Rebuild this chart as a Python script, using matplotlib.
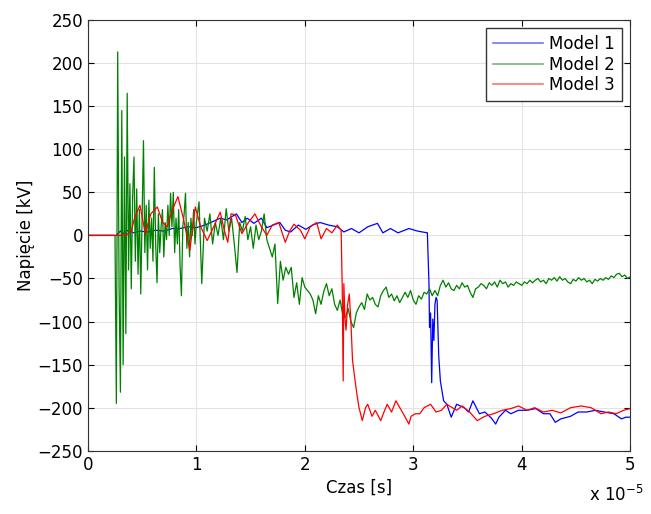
import numpy as np
import matplotlib
matplotlib.use("Agg")
import matplotlib.pyplot as plt

# czas w jednostkach 1e-5 s, napiecie w kV

# Model 1
m1_t = [0, 0.26, 0.30, 0.33, 0.37, 0.42, 0.48, 0.55, 0.62, 0.70,
        0.78, 0.85, 0.92, 1.00, 1.08, 1.15, 1.22, 1.28, 1.33, 1.37,
        1.42, 1.47, 1.53, 1.60, 1.65, 1.71, 1.77, 1.82, 1.87, 1.94,
        2.01, 2.07, 2.14, 2.22, 2.30, 2.36, 2.43, 2.50, 2.58, 2.67,
        2.72, 2.79, 2.86, 2.96, 3.04, 3.13, 3.145, 3.15, 3.16, 3.17,
        3.18, 3.19, 3.20, 3.21, 3.22, 3.235, 3.25, 3.28, 3.31, 3.35,
        3.40, 3.47, 3.51, 3.55, 3.61, 3.66, 3.72, 3.76, 3.79, 3.85,
        3.90, 3.97, 4.05, 4.13, 4.20, 4.26, 4.31, 4.36, 4.45, 4.52,
        4.60, 4.68, 4.76, 4.85, 4.92, 4.96, 5.0]
m1_v = [0, 0, 5, 2, 6, 3, 5, 4, 6, 5,
        8, 8, 10, 9, 12, 16, 20, 18, 22, 25,
        15, 20, 14, 20, 9, 12, 15, 6, 4, 12,
        7, 12, 15, 12, 10, 4, 8, 3, 10, 14,
        3, 8, 3, 8, 5, 3, -56, -107, -90, -171,
        -97, -122, -80, -72, -75, -140, -169, -192, -196, -211,
        -196, -200, -205, -192, -207, -205, -212, -219, -211, -203,
        -207, -203, -203, -201, -207, -207, -217, -213, -210, -205,
        -205, -203, -205, -207, -213, -211, -211]

# Model 2 - kolejne odcinki (t_start, t_end, wartosci)
m2_seg0 = [0, 0]
m2_seg1 = [0, -195, 213, -60, -182, 145, -150, 91, -114, 165,
           -40, 60, -62, 45, 91, -30, 54, -45, 30, -68,
           20, 110, -20, 35, -40, 41, -15, 20, -30, 79,
           -10, -55, 25, -20, 10, 30, -25, 15, -5, 35,
           0, 49, 10, 50, -20, 20, -10, 30, -35, -70,
           10, 25, 49, -15, 15, -25, 20, 0, 30, -10, 15]
m2_seg2 = [39, -56, 20, 5, 25, -10, 15, 0, 20, -5,
           31, 5, 20, -10, -43, 15, 5, 22, -5, 10,
           -15, 12, -5, 5]
m2_seg3 = [25, -5, -15, -25, -10, -79, -30, -52, -37, -45,
           -37, -72, -55, -80, -49, -60, -64, -68, -75, -91,
           -70, -80, -65, -56, -70, -62, -80, -87, -75, -92,
           -95, -85, -100, -107, -90, -83, -78, -86, -68, -75,
           -72, -80, -83, -70, -64, -60, -72, -68, -76, -70,
           -78, -72, -66, -72, -64, -75, -80, -70, -74, -66,
           -68, -62, -70, -64, -70, -58, -52, -60, -55, -62,
           -64, -58, -62, -55, -60, -58, -66, -72, -62, -60,
           -56, -58, -62, -55, -58, -54, -60, -52, -56, -54,
           -60, -56, -58, -54, -56, -58, -54, -56, -52, -55,
           -52, -50, -54, -52, -56, -50, -52, -49, -53, -48,
           -52, -50, -54, -56, -51, -53, -49, -52, -50, -54,
           -52, -56, -51, -53, -50, -52, -49, -51, -47, -49,
           -45, -44, -48, -46, -50, -48]
m2_bounds = [(0.0, 0.25), (0.25, 1.0), (1.025, 1.6), (1.625, 5.0)]

# Model 3
m3_t = [0, 0.35, 0.40, 0.43, 0.48, 0.53, 0.58, 0.64, 0.69, 0.73,
        0.78, 0.83, 0.88, 0.94, 0.99, 1.04, 1.10, 1.16, 1.22, 1.26,
        1.29, 1.32, 1.36, 1.42, 1.48, 1.54, 1.60, 1.65, 1.70, 1.76,
        1.82, 1.86, 1.90, 1.96, 2.00, 2.05, 2.11, 2.15, 2.20, 2.25,
        2.30, 2.335, 2.345, 2.354, 2.36, 2.37, 2.38, 2.395, 2.41, 2.425,
        2.44, 2.46, 2.48, 2.50, 2.53, 2.56, 2.58, 2.62, 2.65, 2.70,
        2.73, 2.76, 2.80, 2.84, 2.89, 2.93, 2.96, 2.98, 3.02, 3.06,
        3.10, 3.16, 3.21, 3.26, 3.31, 3.36, 3.40, 3.45, 3.52, 3.59,
        3.66, 3.74, 3.82, 3.90, 3.97, 4.05, 4.12, 4.20, 4.28, 4.36,
        4.45, 4.55, 4.64, 4.73, 4.80, 4.87, 4.94, 5.0]
m3_v = [0, 0, 5, 20, 35, 2, 25, 33, 15, 10,
        30, 45, 20, -17, 33, 10, -6, 10, 27, 5,
        -8, 25, 24, 2, 15, 25, 10, 0, 12, 15,
        -8, 5, 13, 6, -4, 10, 15, -4, 8, 3,
        12, 6, -60, -169, -56, -95, -110, -80, -68, -100,
        -145, -165, -184, -200, -215, -200, -196, -210, -203, -215,
        -205, -196, -205, -192, -203, -212, -219, -210, -207, -207,
        -200, -196, -205, -203, -196, -200, -203, -198, -205, -215,
        -210, -207, -203, -201, -198, -203, -200, -205, -203, -206,
        -200, -198, -200, -207, -205, -207, -203, -201]

labels = ["Model 1", "Model 2", "Model 3"]

m2_t, m2_v = [], []
for (a, b), seg in zip(m2_bounds, [m2_seg0, m2_seg1, m2_seg2, m2_seg3]):
    m2_t.extend(np.linspace(a, b, len(seg)))
    m2_v.extend(seg)

fig = plt.figure(figsize=(6.51, 5.14), dpi=100)
ax = fig.add_axes([0.135, 0.123, 0.833, 0.838])

scale = 1e-5
ax.plot(np.array(m1_t) * scale, m1_v, color="#0000ff", lw=0.9, label=labels[0])
ax.plot(np.array(m2_t) * scale, m2_v, color="#008000", lw=0.9, label=labels[1])
ax.plot(np.array(m3_t) * scale, m3_v, color="#ff0000", lw=0.9, label=labels[2])

ax.set_xlim(0, 5e-5)
ax.set_ylim(-250, 250)
ax.set_xticks(np.arange(0, 6) * scale)
ax.set_xticklabels([str(i) for i in range(6)])
ax.set_yticks(np.arange(-250, 251, 50))
ax.grid(True, color="#e3e3e3", lw=0.8)
ax.set_axisbelow(True)
ax.tick_params(direction="in", top=True, right=True, labelsize=12, length=4)
for s in ax.spines.values():
    s.set_color("#333333")

ax.set_xlabel("Czas [s]", fontsize=12, labelpad=4)
ax.set_ylabel("Napięcie [kV]", fontsize=12, labelpad=2)
fig.text(0.905, 0.018, r"x 10$^{-5}$", fontsize=12, ha="left", va="bottom")

leg = ax.legend(loc="upper right", fontsize=12, fancybox=False, framealpha=1,
                edgecolor="#333333", handlelength=3, borderaxespad=0.5,
                labelspacing=0.15, handletextpad=0.4)
for line in leg.get_lines():
    line.set_alpha(0.55)
    line.set_linewidth(1.2)

fig.savefig("out.png", dpi=100)
